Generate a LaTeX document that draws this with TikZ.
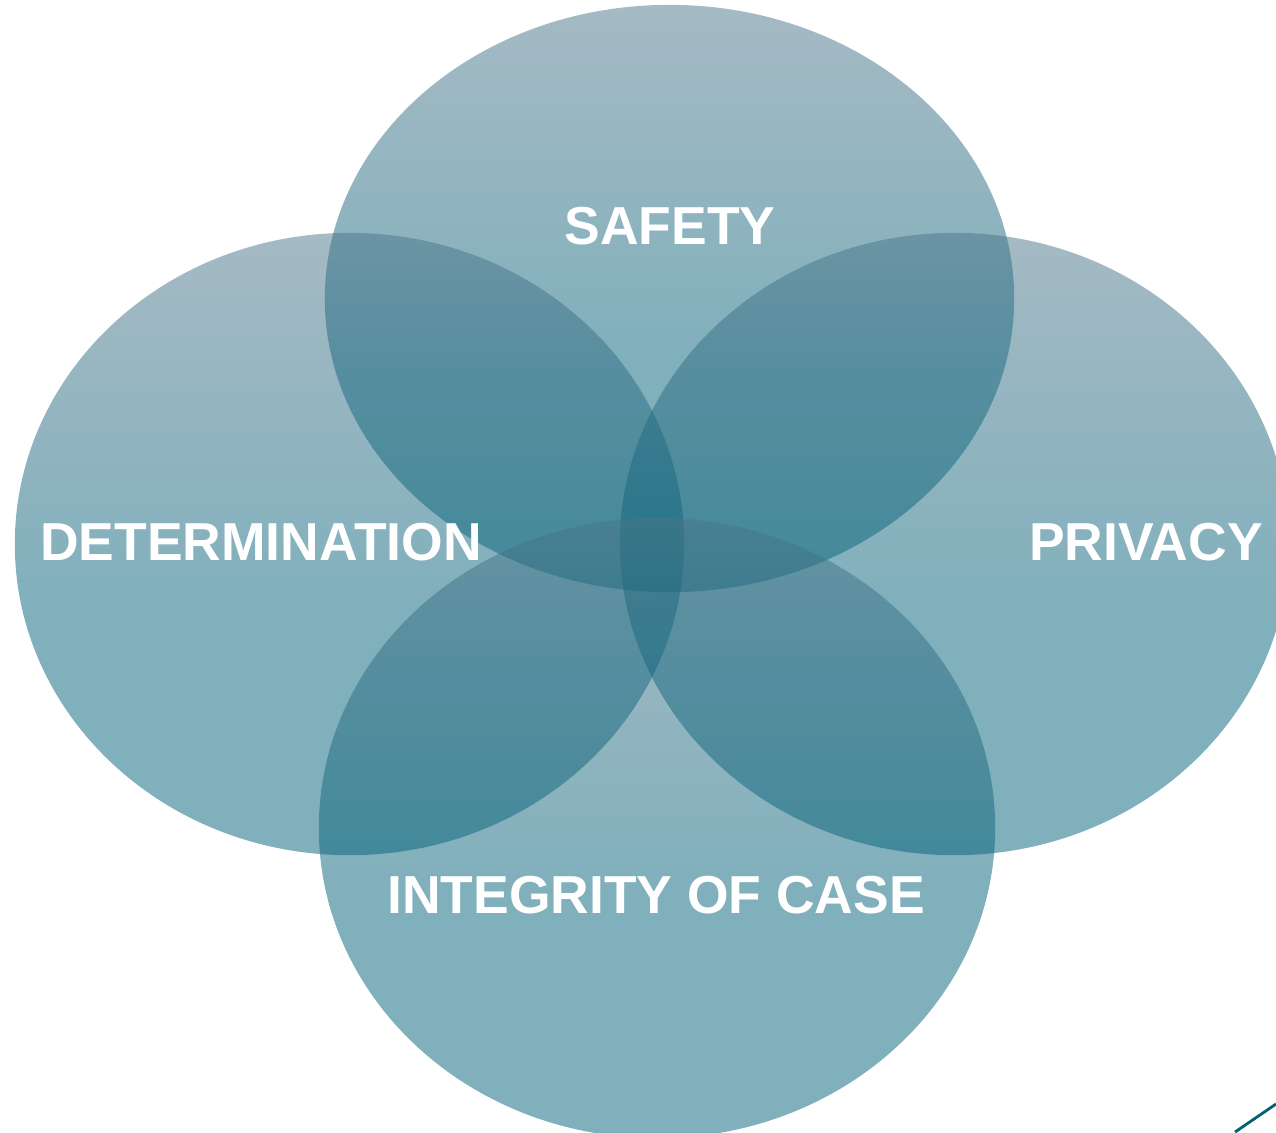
\documentclass[tikz,border=0pt]{standalone}
\usepackage{fontspec}
\setmainfont{Liberation Sans}
\definecolor{tealdeep}{RGB}{1,97,121}
\definecolor{tealgrey}{RGB}{75,117,137}
\pgfdeclareverticalshading{petalfade}{100bp}{color(0bp)=(tealdeep); color(25bp)=(tealdeep);
  color(45bp)=(tealdeep); color(75bp)=(tealgrey); color(100bp)=(tealgrey)}
\begin{document}
\begin{tikzpicture}[x=0.01cm,y=-0.01cm,
  petal/.style={shading=petalfade,fill opacity=0.5},
  caption/.style={text=white,font=\fontsize{15.2}{18}\selectfont\bfseries}]
\useasboundingbox (0,0) rectangle (1276,1132);
\shade[petal] (669.5,298.5) ellipse [x radius=3.445cm,y radius=2.935cm];
\shade[petal] (349.5,544) ellipse [x radius=3.345cm,y radius=3.11cm];
\shade[petal] (954.5,544) ellipse [x radius=3.345cm,y radius=3.11cm];
\shade[petal] (657,828) ellipse [x radius=3.38cm,y radius=3.1cm];
\node[caption] (safety) at (670,226) {SAFETY};
\node[caption] (determination) at (261,542) {DETERMINATION};
\node[caption] (privacy) at (1146,542) {PRIVACY};
\node[caption] (integrity) at (656,895) {INTEGRITY OF CASE};
\draw[tealdeep,line width=0.8pt] (1235,1132) -- (1276,1104);
\end{tikzpicture}
\end{document}
